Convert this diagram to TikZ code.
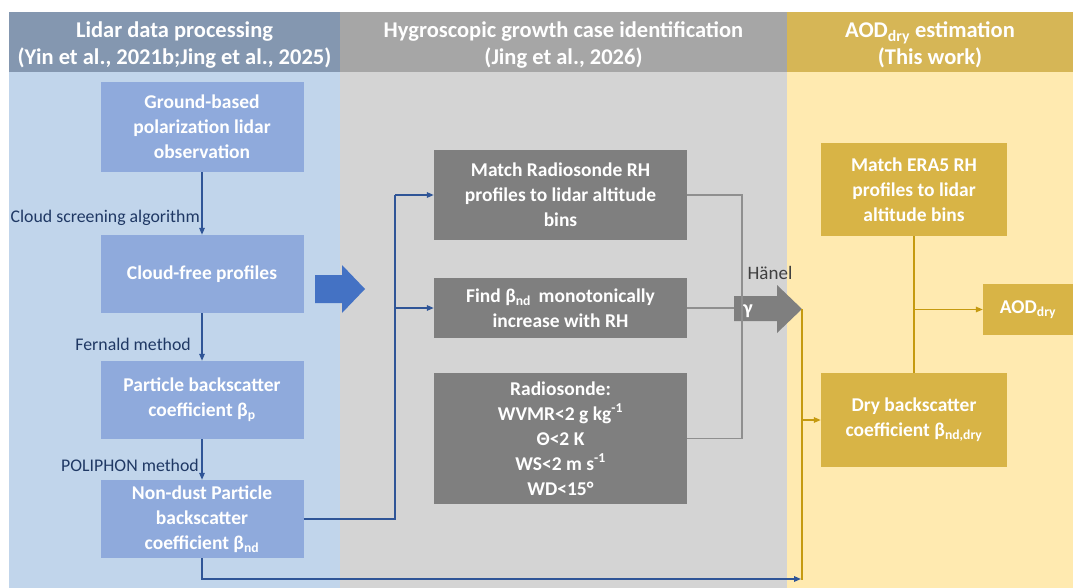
\documentclass[tikz,border=0pt]{standalone}
\usepackage{fontspec}
\setmainfont{Carlito}
\usetikzlibrary{arrows.meta}
\definecolor{hdL}{HTML}{8497B0}
\definecolor{hdM}{HTML}{A6A6A6}
\definecolor{hdR}{HTML}{D6B656}
\definecolor{bgL}{HTML}{C1D5EB}
\definecolor{bgM}{HTML}{D4D4D4}
\definecolor{bgR}{HTML}{FFEAB0}
\definecolor{boxL}{HTML}{8FAADC}
\definecolor{boxM}{HTML}{7F7F7F}
\definecolor{boxR}{HTML}{D8B446}
\definecolor{lnB}{HTML}{2F5597}
\definecolor{lnG}{HTML}{8F8F8F}
\definecolor{lnY}{HTML}{C59A10}
\definecolor{bigB}{HTML}{4472C4}
\definecolor{lblB}{HTML}{1F3864}
\definecolor{lblK}{HTML}{404040}
\begin{document}
\begin{tikzpicture}[x=1pt,y=-1pt,
  box/.style={rectangle, text=white, font=\fontsize{19.5}{25}\selectfont\bfseries, align=center, inner sep=0pt},
  lbox/.style={box, fill=boxL, minimum width=203pt},
  mbox/.style={box, fill=boxM, minimum width=253pt},
  rbox/.style={box, fill=boxR},
  hdr/.style={text=white, font=\fontsize{22.5}{27}\selectfont\bfseries, align=center},
  lbl/.style={text=lblB, font=\fontsize{17.8}{20}\selectfont, inner sep=0pt},
  tip/.style={-{Triangle[length=7pt,width=5.5pt]}},
  bline/.style={draw=lnB, line width=1.4pt},
  gline/.style={draw=lnG, line width=1.4pt},
  yline/.style={draw=lnY, line width=1.4pt}
]
\useasboundingbox (0,0) rectangle (1073,588);
\fill[white] (0,0) rectangle (1073,588);
% panels
\fill[bgL] (9,12) rectangle (340,588);
\fill[bgM] (340,12) rectangle (787,588);
\fill[bgR] (787,12) rectangle (1073,588);
\fill[hdL] (9,12) rectangle (340,72);
\fill[hdM] (340,12) rectangle (787,72);
\fill[hdR] (787,12) rectangle (1073,72);
\node[hdr] (h1) at (174.5,45) {Lidar data processing\\(Yin et al., 2021b;Jing et al., 2025)};
\node[hdr] (h2) at (563.5,45) {Hygroscopic growth case identification\\(Jing et al., 2026)};
\node[hdr] (h3) at (930,45) {AOD\textsubscript{dry} estimation\\(This work)};
% left column
\node[lbox, minimum height=90pt] (b1) at (202,127) {Ground-based\\polarization lidar\\observation};
\node[lbox, minimum height=78pt] (b2) at (202,274) {Cloud-free profiles};
\node[lbox, minimum height=78pt] (b3) at (202,400) {Particle backscatter\\coefficient β\textsubscript{p}};
\node[lbox, minimum height=78pt] (b4) at (202,519) {Non-dust Particle\\backscatter\\coefficient β\textsubscript{nd}};
\draw[bline, tip] (b1) -- (b2);
\draw[bline, tip] (b2) -- (b3);
\draw[bline, tip] (b3) -- (b4);
\node[lbl, anchor=east] (l1) at (200,218) {Cloud screening algorithm};
\node[lbl, anchor=east] (l2) at (191,344) {Fernald method};
\node[lbl, anchor=east] (l3) at (199,465) {POLIPHON method};
% big blue arrow
\fill[bigB] (315,275) -- (342,275) -- (342,265) -- (365,289) -- (342,313) -- (342,303) -- (315,303) -- cycle;
% middle column
\node[mbox, minimum height=90pt] (m1) at (560.5,195) {Match Radiosonde RH\\profiles to lidar altitude\\bins};
\node[mbox, minimum height=60pt] (m2) at (560.5,308) {Find β\textsubscript{nd}\, monotonically\\increase with RH};
\node[mbox, minimum height=131pt] (m3) at (560.5,438.5) {Radiosonde:\\WVMR\textless 2 g kg\textsuperscript{-1}\\Θ\textless 2 K\\WS\textless 2 m s\textsuperscript{-1}\\WD\textless 15°};
\coordinate (split) at (395,519);
\draw[bline] (b4.east |- split) -- (split) -- (395,195);
\draw[bline, tip] (395,195) -- (m1.west);
\draw[bline, tip] (395,308) -- (m2.west);
% grey arrow (Haenel)
\fill[boxM] (734,296) -- (777,296) -- (777,285) -- (802,309) -- (777,333) -- (777,321) -- (734,321) -- cycle;
\coordinate (gtip) at (802,309);
\coordinate (gtail) at (734,308);
\draw[gline] (m1.east) -- (742,195) -- (742,438.5) -- (m3.east);
\draw[gline] (m2.east) -- (gtail);
\node[text=white, font=\fontsize{20}{22}\selectfont\bfseries] (gam) at (748,311) {γ};
\node[text=lblK, font=\fontsize{19}{22}\selectfont] (haenel) at (770,273) {Hänel};
% right column
\node[rbox, minimum width=186pt, minimum height=93pt] (r1) at (914,189.5) {Match ERA5 RH\\profiles to lidar\\altitude bins};
\node[rbox, minimum width=186pt, minimum height=94pt] (r2) at (914,420) {Dry backscatter\\coefficient β\textsubscript{nd,dry}};
\node[rbox, minimum width=90pt, minimum height=51pt] (r3) at (1028,309.5) {AOD\textsubscript{dry}};
\coordinate (ydown) at (802,580);
\draw[yline] (gtip) -- (ydown);
\draw[yline, tip] (802,420) -- (r2.west);
\draw[yline] (r1.south) -- (r2.north);
\draw[yline, tip] (914,309.5) -- (r3.west);
\draw[bline, tip] (b4.south) -- (202,579) -- (801,579);
\end{tikzpicture}
\end{document}
